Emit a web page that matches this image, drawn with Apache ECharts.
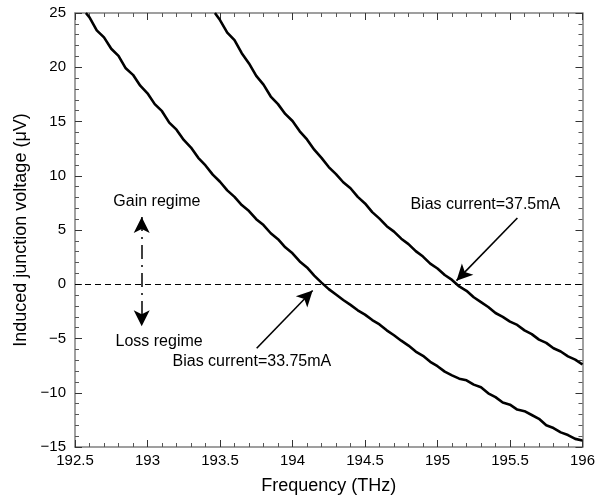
<!DOCTYPE html>
<html>
<head>
<meta charset="utf-8">
<script src="https://cdn.jsdelivr.net/npm/echarts@6/dist/echarts.min.js"></script>
<style>
  html, body { margin: 0; padding: 0; background: #fff; }
  #chart { width: 598px; height: 500px; }
</style>
</head>
<body>
<div id="chart"></div>
<script>
// frequency (THz) / induced voltage (uV), bias current 33.75 mA
var freqA = [192.575, 192.60, 192.65, 192.70, 192.75, 192.80, 192.85, 192.90, 192.95, 193.00,
  193.05, 193.10, 193.15, 193.20, 193.25, 193.30, 193.35, 193.40, 193.45, 193.50,
  193.55, 193.60, 193.65, 193.70, 193.75, 193.80, 193.85, 193.90, 193.95, 194.00,
  194.05, 194.10, 194.15, 194.20, 194.25, 194.30, 194.35, 194.40, 194.45, 194.50,
  194.55, 194.60, 194.65, 194.70, 194.75, 194.80, 194.85, 194.90, 194.95, 195.00,
  195.05, 195.10, 195.15, 195.20, 195.25, 195.30, 195.35, 195.40, 195.45, 195.50,
  195.55, 195.60, 195.65, 195.70, 195.75, 195.80, 195.85, 195.90, 195.95, 196.00]
var voltA = [25.0, 24.6, 23.4, 22.75, 21.7, 21.05, 19.9, 19.3, 18.3, 17.6,
  16.6, 15.95, 14.9, 14.25, 13.3, 12.6, 11.65, 10.95, 10.1, 9.45,
  8.65, 8.05, 7.3, 6.75, 6.0, 5.45, 4.7, 4.15, 3.4, 2.85,
  2.1, 1.55, 0.8, 0.15, -0.45, -0.95, -1.45, -1.9, -2.4, -2.8,
  -3.3, -3.7, -4.25, -4.7, -5.2, -5.65, -6.2, -6.6, -7.15, -7.55,
  -8.05, -8.4, -8.7, -8.85, -9.25, -9.5, -10.05, -10.4, -10.9, -11.1,
  -11.55, -11.7, -12.05, -12.4, -13.0, -13.25, -13.65, -13.9, -14.25, -14.4]

// bias current 37.5 mA
var freqB = [193.465, 193.50, 193.55, 193.60, 193.65, 193.70, 193.75, 193.80, 193.85, 193.90,
  193.95, 194.00, 194.05, 194.10, 194.15, 194.20, 194.25, 194.30, 194.35, 194.40,
  194.45, 194.50, 194.55, 194.60, 194.65, 194.70, 194.75, 194.80, 194.85, 194.90,
  194.95, 195.00, 195.05, 195.10, 195.15, 195.20, 195.25, 195.30, 195.35, 195.40,
  195.45, 195.50, 195.55, 195.60, 195.65, 195.70, 195.75, 195.80, 195.85, 195.90,
  195.95, 196.00]
var voltB = [25.0, 24.35, 23.2, 22.5, 21.3, 20.35, 19.2, 18.4, 17.3, 16.6,
  15.7, 15.05, 14.1, 13.35, 12.4, 11.65, 10.8, 10.15, 9.4, 8.85,
  8.05, 7.45, 6.65, 6.05, 5.35, 4.85, 4.2, 3.7, 3.05, 2.55,
  1.9, 1.45, 0.85, 0.4, -0.2, -0.6, -1.2, -1.65, -2.1, -2.65,
  -3.0, -3.45, -3.75, -4.25, -4.6, -5.1, -5.4, -5.9, -6.2, -6.65,
  -6.95, -7.4]

var xMin = 192.5, xMax = 196, xStep = 0.5
var yMin = -15, yMax = 25, yStep = 5

function pairs(xs, ys) {
  return xs.map(function (x, i) { return [x, ys[i]] })
}

var font = 'Liberation Sans, Arial, sans-serif'
var frameColor = '#808080'

function makeAxis(extra) {
  var ax = {
    type: 'value',
    axisLine: { show: true, onZero: false, lineStyle: { color: frameColor, width: 1.5 } },
    axisTick: { show: true, inside: true, length: 7, lineStyle: { color: '#333', width: 1 } },
    minorTick: { show: true, splitNumber: 5, length: 4, lineStyle: { color: '#555', width: 1 } },
    splitLine: { show: false },
    minorSplitLine: { show: false },
    axisLabel: { show: false }
  }
  return Object.assign(ax, extra)
}

var chart = echarts.init(document.getElementById('chart'))
var option = {
  animation: false,
  grid: { left: 75, right: 15, top: 13, bottom: 51, containLabel: false },
  xAxis: [
    makeAxis({
      position: 'bottom', min: xMin, max: xMax, interval: xStep,
      name: 'Frequency (THz)', nameLocation: 'middle', nameGap: 30,
      nameTextStyle: { fontFamily: font, fontSize: 18, color: '#000' },
      axisLabel: { show: true, margin: 6, fontFamily: font, fontSize: 15, color: '#000' }
    }),
    makeAxis({ position: 'top', min: xMin, max: xMax, interval: xStep })
  ],
  yAxis: [
    makeAxis({
      position: 'left', min: yMin, max: yMax, interval: yStep,
      name: 'Induced junction voltage (\u03bcV)', nameLocation: 'middle', nameGap: 45,
      nameTextStyle: { fontFamily: font, fontSize: 18, color: '#000' },
      axisLabel: {
        show: true, margin: 9, fontFamily: font, fontSize: 15, color: '#000',
        formatter: function (v) { return String(v).replace('-', '\u2212') }
      }
    }),
    makeAxis({ position: 'right', min: yMin, max: yMax, interval: yStep })
  ],
  series: [
    {
      name: 'Bias current=33.75mA',
      type: 'line',
      data: pairs(freqA, voltA),
      showSymbol: false,
      lineStyle: { color: '#000', width: 2.6 },
      markLine: {
        silent: true,
        symbol: 'none',
        label: { show: false },
        lineStyle: { color: '#000', width: 1.2, type: [6, 4] },
        data: [[{ coord: [xMin, 0] }, { coord: [xMax, 0] }]]
      },
      markPoint: {
        silent: true,
        symbolSize: 0,
        label: { show: true, position: 'inside', fontFamily: font, fontSize: 16, color: '#000' },
        data: [
          { coord: [193.72, -7.1], value: 'Bias current=33.75mA', label: { formatter: 'Bias current=33.75mA' } },
          { coord: [193.065, 7.6], value: 'Gain regime', label: { formatter: 'Gain regime' } },
          { coord: [193.08, -5.25], value: 'Loss regime', label: { formatter: 'Loss regime' } }
        ]
      }
    },
    {
      name: 'Bias current=37.5mA',
      type: 'line',
      data: pairs(freqB, voltB),
      showSymbol: false,
      lineStyle: { color: '#000', width: 2.6 },
      markLine: {
        silent: true,
        label: { show: false },
        symbolSize: [12, 16],
        lineStyle: { color: '#000', width: 1.6, type: 'solid' },
        data: [
          [{ coord: [193.753, -5.9], symbol: 'none' }, { coord: [194.139, -0.57], symbol: 'arrow' }],
          [{ coord: [195.551, 6.11], symbol: 'none' }, { coord: [195.131, 0.33], symbol: 'arrow' }],
          [{ coord: [192.96, 6.2], symbol: 'arrow', lineStyle: { type: [14, 6, 2, 6], width: 1.5 } },
           { coord: [192.96, -3.87], symbol: 'arrow' }]
        ]
      },
      markPoint: {
        silent: true,
        symbolSize: 0,
        label: { show: true, position: 'inside', fontFamily: font, fontSize: 16, color: '#000' },
        data: [
          { coord: [195.33, 7.38], value: 'Bias current=37.5mA', label: { formatter: 'Bias current=37.5mA' } }
        ]
      }
    }
  ]
}
chart.setOption(option)
</script>
</body>
</html>
